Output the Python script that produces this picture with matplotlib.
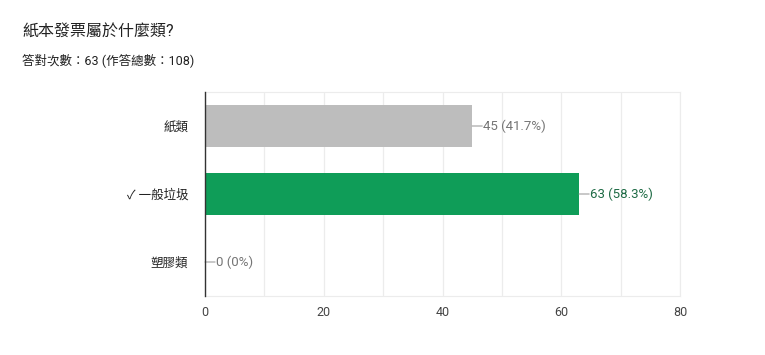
import matplotlib.pyplot as plt
from matplotlib.ticker import MultipleLocator

plt.rcParams['font.family'] = ['Roboto', 'Noto Sans CJK TC', 'DejaVu Sans']

# data
categories = ['紙類', '✓ 一般垃圾', '塑膠類']
counts = [45, 63, 0]
pct_labels = ['45 (41.7%)', '63 (58.3%)', '0 (0%)']
bar_colors = ['#bdbdbd', '#0f9d58', '#bdbdbd']
label_colors = ['#757575', '#1e6b45', '#757575']

title = '紙本發票屬於什麼類?'
subtitle = '答對次數：63 (作答總數：108)'

fig = plt.figure(figsize=(7.65, 3.55), dpi=100)
ax = fig.add_axes([205 / 765, 59 / 355, 475 / 765, 204 / 355])

y = list(range(len(categories)))
ax.barh(y, counts, height=0.63, color=bar_colors, zorder=3)
ax.set_ylim(len(categories) - 0.5, -0.5)
ax.set_xlim(0, 80)

# value labels with small leader line
for yi, c, lab, col in zip(y, counts, pct_labels, label_colors):
    ax.annotate('', xy=(c, yi), xytext=(c + 1.7, yi),
                arrowprops=dict(arrowstyle='-', color='#9e9e9e', lw=0.8,
                                shrinkA=0, shrinkB=0))
    ax.text(c + 1.9, yi, lab, va='center', ha='left', fontsize=9.5, color=col)

ax.set_yticks(y)
ax.set_yticklabels(categories, fontsize=9, color='#222222')
ax.xaxis.set_major_locator(MultipleLocator(20))
ax.xaxis.set_minor_locator(MultipleLocator(10))
ax.tick_params(axis='both', which='both', length=0)
ax.tick_params(axis='y', pad=12)
ax.tick_params(axis='x', labelsize=9, labelcolor='#444444', pad=7)
ax.grid(True, axis='x', which='both', color='#ececec', lw=0.9, zorder=0)

for s in ['top', 'right', 'bottom']:
    ax.spines[s].set_color('#ececec')
ax.spines['left'].set_color('#333333')
ax.spines['left'].set_linewidth(1.0)
ax.spines['left'].set_zorder(4)

fig.text(22 / 765, 1 - 31 / 355, title, fontsize=11.5, color='#212121', va='center')
fig.text(22 / 765, 1 - 60 / 355, subtitle, fontsize=9, color='#212121', va='center')

fig.savefig('out.png', dpi=100, facecolor='white')
